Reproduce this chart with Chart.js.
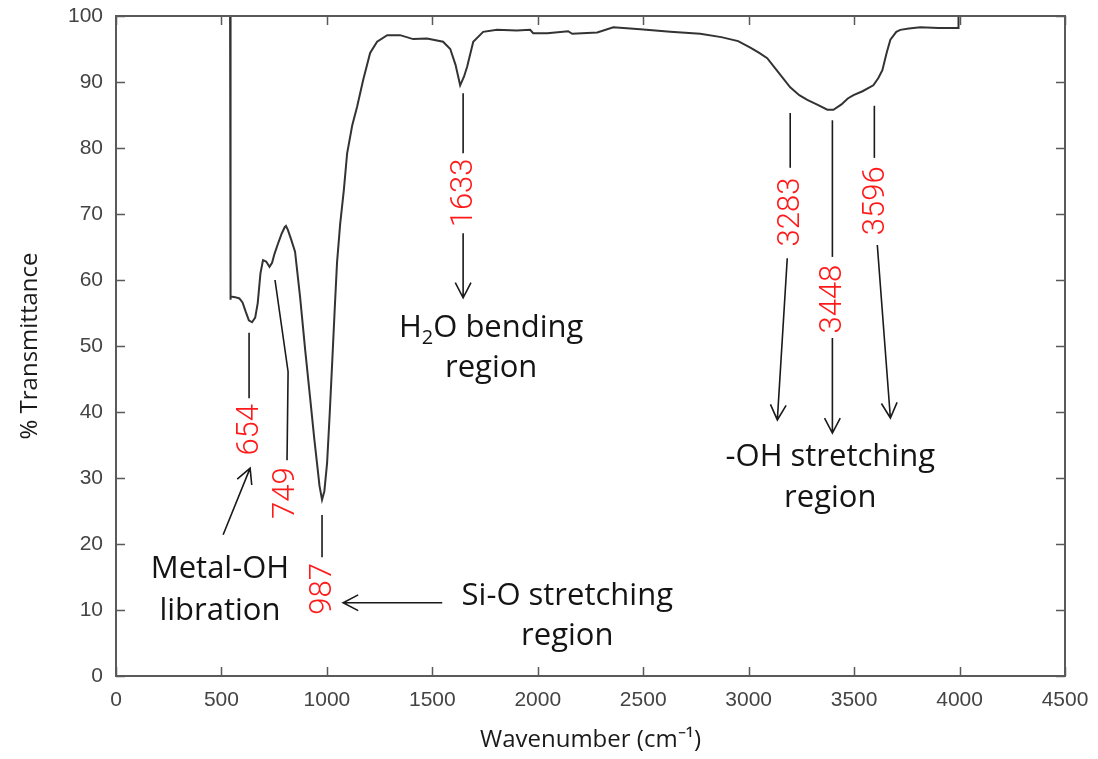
<!DOCTYPE html>
<html>
<head>
<meta charset="utf-8">
<script src="https://cdn.jsdelivr.net/npm/chart.js@4.4.1/dist/chart.umd.min.js"></script>
<style>
  html, body { margin: 0; padding: 0; background: #fff; }
  canvas { display: block; }
</style>
</head>
<body>
<canvas id="ftir" width="1098" height="759"></canvas>
<script>
// FTIR spectrum
const wavenumber = [400, 541, 541.5, 545, 565, 585, 600, 615, 630, 645, 660, 672, 685, 697, 712, 728, 740, 752, 768, 785, 800, 806, 815,
  830, 849, 873, 897, 920, 940, 953, 965, 977, 988, 1001, 1013, 1025, 1037, 1048, 1063, 1080, 1096, 1120, 1143, 1172, 1205, 1238,
  1286, 1347, 1409, 1475, 1551, 1585, 1610, 1632, 1650, 1665, 1694, 1741, 1807, 1900, 1964, 1978, 2045, 2144, 2163, 2282, 2358,
  2486, 2628, 2770, 2870, 2950, 3008, 3050, 3088, 3140, 3197, 3240, 3278, 3330, 3373, 3402, 3440, 3470, 3497, 3540, 3591, 3615,
  3634, 3655, 3672, 3700, 3719, 3760, 3814, 3900, 3994, 3995];
const transmittance = [100, 100, 57.0, 57.5, 57.4, 57.2, 56.6, 55.2, 53.9, 53.6, 54.3, 56.5, 61.0, 63.0, 62.8, 62.0, 62.6, 64.0, 65.5, 67.0, 68.0, 68.2, 67.6,
  66.2, 64.3, 57.4, 49.4, 42.3, 36.0, 32.3, 28.8, 26.7, 28.0, 32.3, 39.5, 47.4, 55.5, 62.6, 68.5, 73.5, 79.2, 83.4, 86.2, 90.3, 94.4, 96.1,
  97.1, 97.1, 96.5, 96.6, 96.1, 95.0, 92.6, 89.5, 90.8, 92.3, 96.1, 97.6, 97.9, 97.8, 97.9, 97.4, 97.4, 97.7, 97.3, 97.5, 98.3,
  98.0, 97.6, 97.3, 96.8, 96.2, 95.2, 94.4, 93.6, 91.5, 89.2, 88.0, 87.3, 86.5, 85.8, 85.8, 86.6, 87.5, 88.0, 88.6, 89.5, 90.6,
  91.8, 94.5, 96.4, 97.6, 97.9, 98.1, 98.3, 98.2, 98.2, 100];

const peakLabels = ['654', '749', '987', '1633', '3283', '3448', '3596'];
const regionLabels = [['Metal-OH', 'libration'], ['Si-O stretching', 'region'], ['H\u2082O bending', 'region'], ['-OH stretching', 'region']];

// where the annotations sit, in axis units (wavenumber, %T)
const peakLabelPos = [[631, 37.3], [802, 27.7], [977, 13.2], [1646, 73.2], [3197, 70.3], [3397, 57.1], [3601, 72.0]];
const leaderLines = [
  [[631, 52.0], [631, 42.1]],
  [[754, 60.0], [816, 46.1], [811, 32.7]],
  [[977, 24.4], [977, 18.0]],
  [[1646, 88.3], [1646, 79.2]],
  [[3197, 85.3], [3197, 77.0]],
  [[3397, 84.2], [3397, 63.5]],
  [[3596, 86.4], [3596, 78.5]]
];
const arrows = [
  [[508, 21.4], [636, 31.5]],
  [[1547, 11.1], [1077, 11.1]],
  [[1646, 67.1], [1646, 57.3]],
  [[3183, 63.3], [3136, 38.8]],
  [[3397, 51.2], [3397, 36.8]],
  [[3610, 65.3], [3672, 39.1]]
];
const regionPos = [[493, 14.85, 8.5], [2140, 10.7, 4.7], [1779, 51.4, 45.3], [3387, 31.8, 25.6]];

function drawArrow(ctx, x1, y1, x2, y2) {
    const ang = Math.atan2(y2 - y1, x2 - x1);
    const len = 17, spread = 0.48;
    ctx.beginPath();
    ctx.moveTo(x1, y1);
    ctx.lineTo(x2, y2);
    ctx.moveTo(x2 - len * Math.cos(ang - spread), y2 - len * Math.sin(ang - spread));
    ctx.lineTo(x2, y2);
    ctx.lineTo(x2 - len * Math.cos(ang + spread), y2 - len * Math.sin(ang + spread));
    ctx.stroke();
}

function drawRegionText(ctx, text, cx, baseY) {
    const big = '31px "Open Sans"', small = '20px "Open Sans"';
    if (text.indexOf('\u2082') < 0) {
        ctx.font = big;
        ctx.textAlign = 'center';
        ctx.fillText(text, cx, baseY);
        return;
    }
    // H2O with a real subscript
    const parts = [['H', big, 0], ['2', small, 7], ['O bending', big, 0]];
    let total = 0;
    parts.forEach(p => { ctx.font = p[1]; total += ctx.measureText(p[0]).width; });
    let xx = cx - total / 2;
    ctx.textAlign = 'left';
    parts.forEach(p => {
        ctx.font = p[1];
        ctx.fillText(p[0], xx, baseY + p[2]);
        xx += ctx.measureText(p[0]).width;
    });
}

const annotate = {
    id: 'annotate',
    afterDraw(chart) {
        const { ctx, chartArea: a, scales: { x, y } } = chart;
        const px = v => x.getPixelForValue(v);
        const py = v => y.getPixelForValue(v);
        ctx.save();

        // axes box
        ctx.strokeStyle = '#5a5a5a';
        ctx.lineWidth = 2;
        ctx.strokeRect(a.left, a.top, a.right - a.left, a.bottom - a.top);

        // inward ticks on all four sides
        ctx.lineWidth = 1.5;
        ctx.beginPath();
        x.ticks.forEach(t => {
            const p = Math.round(px(t.value)) + 0.5;
            ctx.moveTo(p, a.bottom); ctx.lineTo(p, a.bottom - 9);
            ctx.moveTo(p, a.top); ctx.lineTo(p, a.top + 9);
        });
        y.ticks.forEach(t => {
            const p = Math.round(py(t.value)) + 0.5;
            ctx.moveTo(a.left, p); ctx.lineTo(a.left + 9, p);
            ctx.moveTo(a.right, p); ctx.lineTo(a.right - 9, p);
        });
        ctx.stroke();

        // leader lines and arrows
        ctx.strokeStyle = '#1a1a1a';
        ctx.lineWidth = 1.6;
        leaderLines.forEach(pts => {
            ctx.beginPath();
            pts.forEach((p, i) => i ? ctx.lineTo(px(p[0]), py(p[1])) : ctx.moveTo(px(p[0]), py(p[1])));
            ctx.stroke();
        });
        arrows.forEach(([s, e]) => drawArrow(ctx, px(s[0]), py(s[1]), px(e[0]), py(e[1])));

        // red peak positions, rotated
        ctx.fillStyle = '#ff1a1a';
        ctx.font = '300 31px Roboto';
        ctx.textAlign = 'center';
        ctx.textBaseline = 'middle';
        peakLabels.forEach((lbl, i) => {
            ctx.save();
            ctx.translate(px(peakLabelPos[i][0]), py(peakLabelPos[i][1]));
            ctx.rotate(-Math.PI / 2);
            ctx.fillText(lbl, 0, 1);
            ctx.restore();
        });

        // region captions
        ctx.fillStyle = '#141414';
        ctx.textBaseline = 'alphabetic';
        regionLabels.forEach((lines, i) => {
            const [w, t1, t2] = regionPos[i];
            drawRegionText(ctx, lines[0], px(w), py(t1));
            drawRegionText(ctx, lines[1], px(w), py(t2));
        });
        ctx.restore();
    }
};

const points = wavenumber.map((w, i) => ({ x: w, y: transmittance[i] }));

new Chart(document.getElementById('ftir'), {
    type: 'scatter',
    data: {
        datasets: [{
            data: points,
            showLine: true,
            borderColor: '#333333',
            borderWidth: 2,
            pointRadius: 0,
            tension: 0,
            clip: 4
        }]
    },
    options: {
        responsive: false,
        animation: false,
        devicePixelRatio: 1,
        layout: { padding: { top: 16, right: 33, left: 0, bottom: 0 } },
        plugins: { legend: { display: false }, tooltip: { enabled: false } },
        scales: {
            x: {
                type: 'linear',
                min: 0, max: 4500,
                afterFit: s => { s.height = 83; s.paddingLeft = 0; s.paddingRight = 0; },
                ticks: { stepSize: 500, color: '#444', padding: 12, maxRotation: 0, callback: v => String(v), font: { family: 'Liberation Sans', size: 21 } },
                grid: { drawOnChartArea: false, drawTicks: false },
                border: { display: false },
                title: { display: true, text: 'Wavenumber (cm\u207B\u00B9)', color: '#1a1a1a', padding: { bottom: 4 }, font: { family: 'Open Sans', size: 24 } }
            },
            y: {
                type: 'linear',
                min: 0, max: 100,
                afterFit: s => { s.width = 116; s.paddingTop = 0; s.paddingBottom = 0; },
                ticks: { stepSize: 10, color: '#444', padding: 13, callback: v => String(v), font: { family: 'Liberation Sans', size: 21 } },
                grid: { drawOnChartArea: false, drawTicks: false },
                border: { display: false },
                title: { display: true, text: '% Transmittance', color: '#1a1a1a', padding: { top: 16 }, font: { family: 'Open Sans', size: 24 } }
            }
        }
    },
    plugins: [annotate]
});
</script>
</body>
</html>
